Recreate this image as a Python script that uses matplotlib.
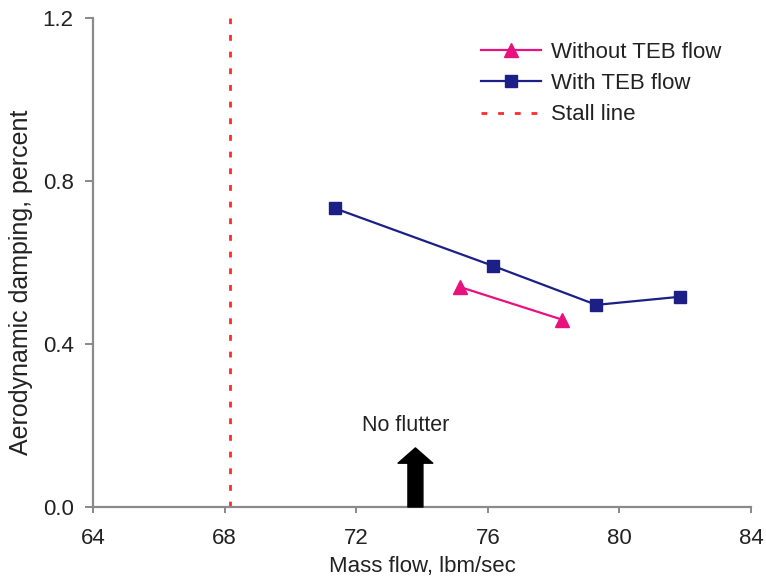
import numpy as np
import matplotlib
matplotlib.use("Agg")
import matplotlib.pyplot as plt

plt.rcParams['font.family'] = ['Liberation Sans', 'DejaVu Sans']

# donnees
without_x = [75.15, 78.25]
without_y = [0.540, 0.460]
with_x = [71.35, 76.15, 79.3, 81.85]
with_y = [0.733, 0.592, 0.496, 0.516]
stall_x = 68.15
arrow_x = 73.8
arrow_top = 0.145
x_ticks = [64, 68, 72, 76, 80, 84]
y_ticks = [0.0, 0.4, 0.8, 1.2]

fig = plt.figure(figsize=(7.66, 5.8), dpi=100)
ax = fig.add_axes([93/766, 1-507/580, 658/766, 489/580])

ax.plot(without_x, without_y, '-', color='#E8127F', lw=1.6, marker='^',
        ms=10, label="Without TEB flow")
ax.plot(with_x, with_y, '-', color='#1C1F86', lw=1.6, marker='s',
        ms=9, label="With TEB flow")
ax.plot([stall_x, stall_x], [0, 1.2], color='#FF2A2A', lw=2.0,
        linestyle=(0, (2.1, 3.9)), label="Stall line")

# fleche "No flutter"
ax.annotate("", xy=(arrow_x, arrow_top), xytext=(arrow_x, 0),
            arrowprops=dict(facecolor='black', edgecolor='black', width=10.8,
                            headwidth=25, headlength=11, shrink=0))
ax.text(73.5, 0.199, "No flutter", ha='center', va='center', fontsize=15.5,
        color='#222222')

ax.set_xlim(64, 84)
ax.set_ylim(0, 1.2)
ax.set_xticks(x_ticks)
ax.set_yticks(y_ticks)
ax.yaxis.set_major_formatter(matplotlib.ticker.FormatStrFormatter('%.1f'))
ax.tick_params(labelsize=16, color='#808080', width=1.3, labelcolor='#222222')
ax.tick_params(axis='x', length=4, pad=11)
ax.tick_params(axis='y', length=6, pad=8)
for s in ['top', 'right']:
    ax.spines[s].set_visible(False)
for s in ['left', 'bottom']:
    ax.spines[s].set_color('#8a8a8a')
    ax.spines[s].set_linewidth(1.6)

ax.set_xlabel("Mass flow, lbm/sec", fontsize=16, labelpad=5, color='#222222')
fig.text(21/766, 1-282/580, "Aerodynamic damping, percent", rotation=90,
         ha='center', va='center', fontsize=18, color='#222222')

ax.legend(loc='upper left', bbox_to_anchor=(461/766, 1-22/580),
          bbox_transform=fig.transFigure, frameon=False, fontsize=16,
          handlelength=2.7, labelspacing=0.46, handletextpad=0.45,
          labelcolor='#222222')

fig.savefig("out.png", dpi=100)
